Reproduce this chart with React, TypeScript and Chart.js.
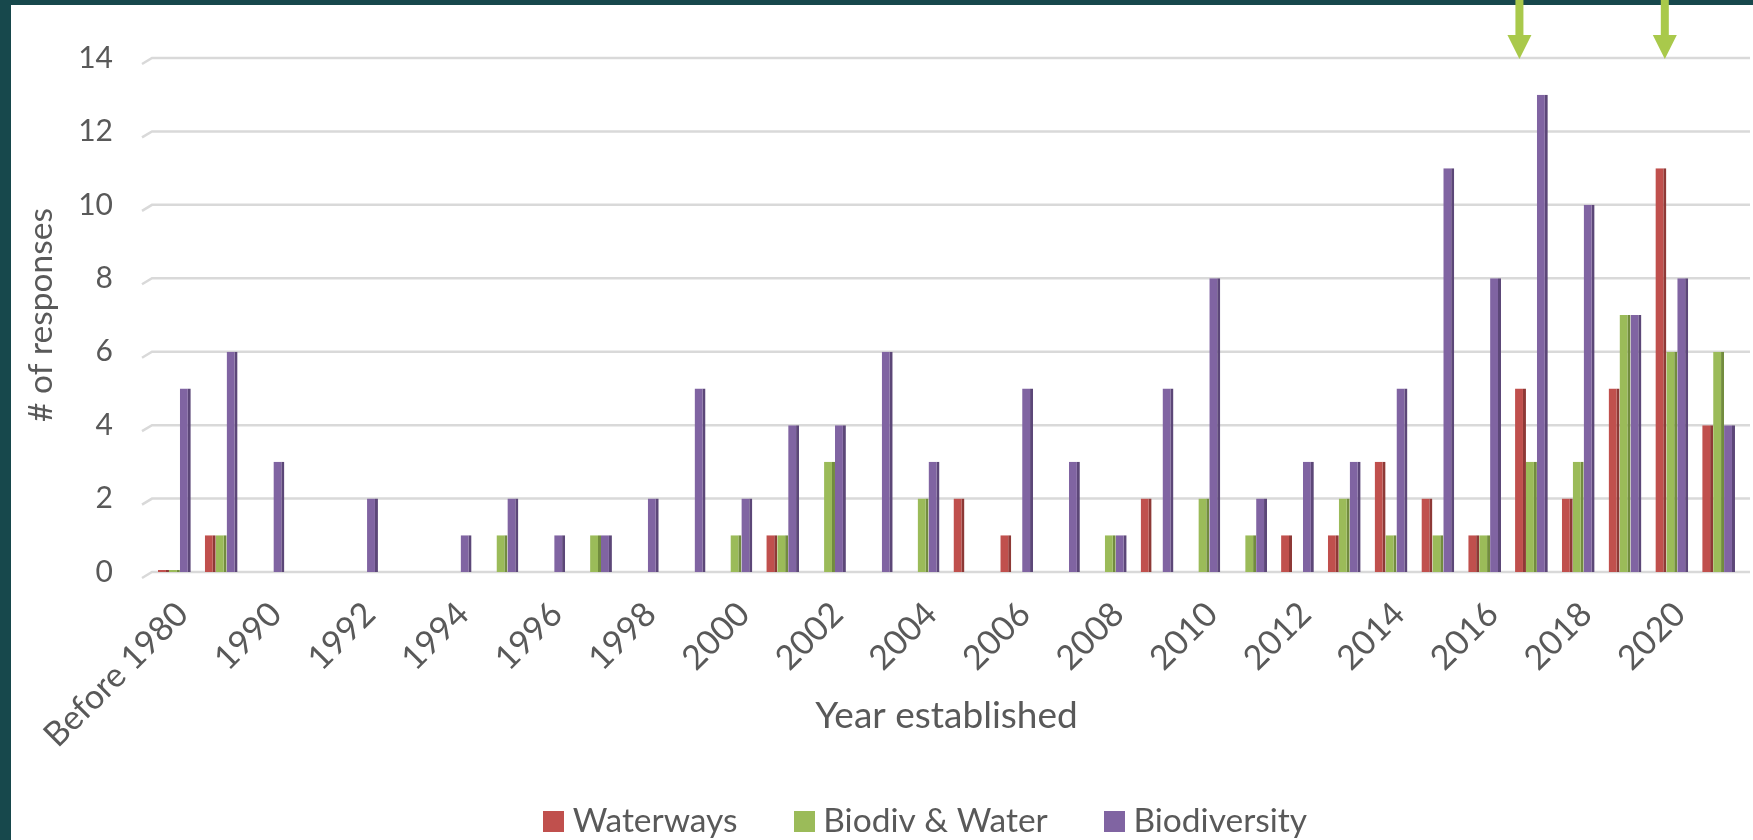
import React, { useEffect, useRef } from 'react';
import { Chart, registerables } from 'chart.js';

Chart.register(...registerables);

const categories = [
  'Before 1980', '1980-1989', '1990', '1991', '1992', '1993', '1994', '1995', '1996', '1997',
  '1998', '1999', '2000', '2001', '2002', '2003', '2004', '2005', '2006', '2007',
  '2008', '2009', '2010', '2011', '2012', '2013', '2014', '2015', '2016', '2017',
  '2018', '2019', '2020', '2021',
];

const n = null;
const waterways = [0, 1, n, n, n, n, n, n, n, n, n, n, n, 1, n, n, n, 2, 1, n, n, 2, n, n, 1, 1, 3, 2, 1, 5, 2, 5, 11, 4];
const biodivWater = [0, 1, n, n, n, n, n, 1, n, 1, n, n, 1, 1, 3, n, 2, n, n, n, 1, n, 2, 1, n, 2, 1, 1, 1, 3, 3, 7, 6, 6];
const biodiversity = [5, 6, 3, n, 2, n, 1, 2, 1, 1, 2, 5, 2, 4, 4, 6, 3, n, 5, 3, 1, 5, 8, 2, 3, 3, 5, 11, 8, 13, 10, 7, 8, 4];

const yTicks = [0, 2, 4, 6, 8, 10, 12, 14];
const highlightYears = ['2017', '2020'];

const FONT = 'Lato, "Open Sans", sans-serif';
const TEXT = '#595959';
const GRID = '#D9D9D9';

function swatch(color: string) {
  const c = document.createElement('canvas');
  c.width = 21;
  c.height = 21;
  const g = c.getContext('2d');
  if (g) {
    g.fillStyle = color;
    g.fillRect(0, 0, 21, 21);
  }
  return c;
}

const floorPlugin = {
  id: 'floor',
  beforeDatasetsDraw(chart: any) {
    const { ctx, chartArea } = chart;
    const ys = chart.scales.y;
    ctx.save();
    ctx.strokeStyle = GRID;
    ctx.lineWidth = 2.5;
    yTicks.forEach((v) => {
      const y = ys.getPixelForValue(v);
      ctx.beginPath();
      ctx.moveTo(chartArea.left - 9, y + 6);
      ctx.lineTo(chartArea.left + 1, y);
      ctx.lineTo(chartArea.right + 8, y);
      ctx.stroke();
    });
    ctx.restore();
  },
};

const arrowPlugin = {
  id: 'arrows',
  afterDraw(chart: any) {
    const { ctx } = chart;
    const xs = chart.scales.x;
    const ys = chart.scales.y;
    const tipY = ys.getPixelForValue(yTicks[yTicks.length - 1]) + 1;
    const offsets = [-12, -7];
    ctx.save();
    ctx.fillStyle = '#A9C94B';
    highlightYears.forEach((yr, k) => {
      const idx = categories.indexOf(yr);
      if (idx < 0) return;
      const x = xs.getPixelForValue(idx) + offsets[k];
      const headH = 24;
      const headW = 24;
      const shaftW = 8;
      ctx.fillRect(x - shaftW / 2, 0, shaftW, tipY - headH + 1);
      ctx.beginPath();
      ctx.moveTo(x - headW / 2, tipY - headH);
      ctx.lineTo(x + headW / 2, tipY - headH);
      ctx.lineTo(x, tipY);
      ctx.closePath();
      ctx.fill();
    });
    ctx.restore();
  },
};

export default function App() {
  const ref = useRef<HTMLCanvasElement | null>(null);

  useEffect(() => {
    document.body.style.margin = '0';
    const canvas = ref.current;
    if (!canvas) return;
    const border = { top: 0, right: 3, bottom: 0, left: 0 };
    const PLOT_LEFT = 151;
    const LEFT_PAD = 116;
    const chart = new Chart(canvas, {
      type: 'bar',
      data: {
        labels: categories,
        datasets: [
          {
            label: 'Waterways',
            data: waterways,
            backgroundColor: '#C0504D',
            borderColor: '#8E3936',
            borderWidth: border,
            borderSkipped: 'start',
            pointStyle: swatch('#C0504D'),
          },
          {
            label: 'Biodiv & Water',
            data: biodivWater,
            backgroundColor: '#9BBB59',
            borderColor: '#728C3E',
            borderWidth: border,
            borderSkipped: 'start',
            pointStyle: swatch('#9BBB59'),
          },
          {
            label: 'Biodiversity',
            data: biodiversity,
            backgroundColor: '#8064A2',
            borderColor: '#5C4778',
            borderWidth: border,
            borderSkipped: 'start',
            pointStyle: swatch('#8064A2'),
          },
        ],
      },
      options: {
        responsive: false,
        animation: false,
        devicePixelRatio: 1,
        layout: { padding: { left: LEFT_PAD, right: 11, top: 58, bottom: -8 } },
        datasets: {
          bar: { categoryPercentage: 0.7, barPercentage: 1.0, minBarLength: 2 },
        },
        plugins: {
          tooltip: { enabled: false },
          legend: {
            position: 'bottom',
            fullSize: true,
            labels: {
              font: { family: FONT, size: 33.5 },
              color: TEXT,
              usePointStyle: true,
              pointStyleWidth: 5,
              boxHeight: 21,
              padding: 64,
            },
          },
        },
        scales: {
          x: {
            afterFit: (s: any) => {
              s.height = 168.5;
              s.paddingLeft = 0;
              s.paddingRight = 0;
              s._computeLabelArea = () => null;
            },
            grid: { display: false, drawTicks: false },
            border: { display: false },
            ticks: {
              autoSkip: false,
              minRotation: 45,
              maxRotation: 45,
              padding: 22,
              labelOffset: 8,
              color: TEXT,
              font: { family: FONT, size: 34 },
              callback: (_v: any, i: number) => (i % 2 === 0 ? categories[i] : ''),
            },
            title: {
              display: true,
              text: 'Year established',
              color: TEXT,
              font: { family: FONT, size: 37 },
              padding: { top: 0, bottom: 2 },
            },
          },
          y: {
            min: yTicks[0],
            max: yTicks[yTicks.length - 1],
            afterFit: (s: any) => {
              s.width = PLOT_LEFT - LEFT_PAD;
              s._computeLabelArea = () => null;
            },
            afterBuildTicks: (s: any) => { s.ticks = yTicks.map((v) => ({ value: v })); },
            grid: { display: false, drawTicks: false },
            border: { display: false },
            ticks: {
              padding: 38,
              color: TEXT,
              font: { family: FONT, size: 30 },
            },
            title: {
              display: true,
              text: '# of responses',
              color: TEXT,
              font: { family: FONT, size: 33.5 },
              padding: { top: 21 - LEFT_PAD, bottom: 0 },
            },
          },
        },
      },
      plugins: [floorPlugin, arrowPlugin],
    } as any);
    return () => chart.destroy();
  }, []);

  return (
    <div style={{ position: 'fixed', left: 0, top: 0, width: 1753, height: 840, background: '#17484C', overflow: 'hidden' }}>
      <div style={{ position: 'absolute', left: 11, top: 5, right: 0, bottom: 0, background: '#FFFFFF' }} />
      <canvas
        ref={ref}
        width={1753}
        height={840}
        style={{ position: 'absolute', left: 0, top: 0, width: 1753, height: 840 }}
      />
    </div>
  );
}
